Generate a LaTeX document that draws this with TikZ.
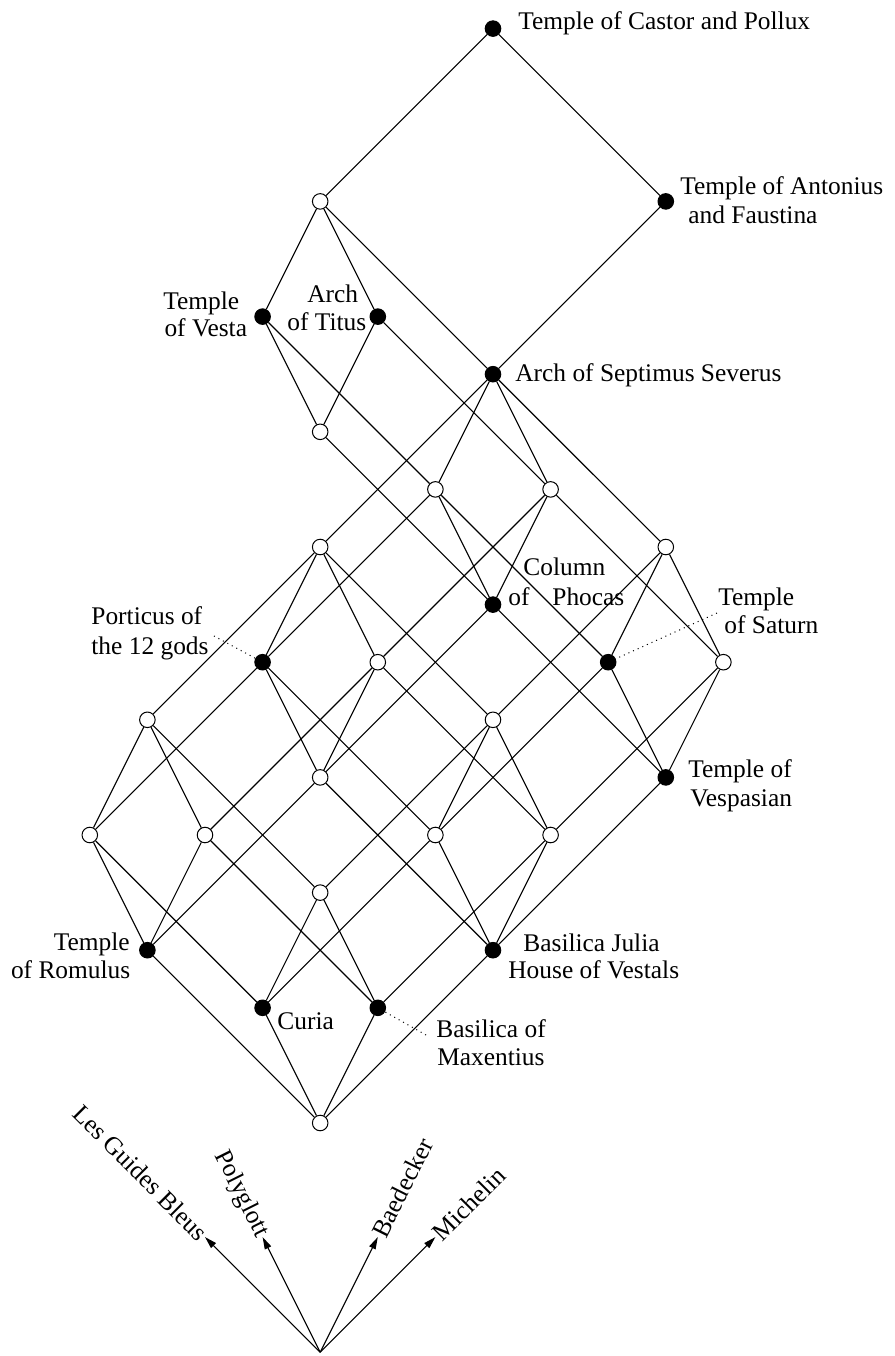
\documentclass[tikz,border=0pt]{standalone}
\usepackage{fontspec}
\setmainfont{Liberation Serif}
\usetikzlibrary{arrows.meta}
\begin{document}
\begin{tikzpicture}[x=1cm,y=1cm,
  every node/.style={font=\fontsize{12.55}{14}\selectfont},
  obj/.style={circle,draw=black,fill=black,minimum size=0.27cm,inner sep=0pt,line width=0.5pt},
  emp/.style={circle,draw=black,fill=white,minimum size=0.27cm,inner sep=0pt,line width=0.5pt},
  edge/.style={line width=0.55pt},
  lab/.style={anchor=base west,inner sep=0pt},
  labr/.style={anchor=base east,inner sep=0pt},
  lead/.style={dotted,line width=0.5pt},
  guide/.style={-{Triangle[length=6pt,width=3.4pt]},line width=0.55pt}
]
\useasboundingbox (-5.559,-4.045) rectangle (9.979,19.497);

% concept nodes
\node[obj] (A) at (3,19) {};
\node[emp] (B) at (0,16) {};
\node[obj] (C) at (6,16) {};
\node[obj] (D) at (-1,14) {};
\node[obj] (E) at (1,14) {};
\node[obj] (F) at (3,13) {};
\node[emp] (G) at (0,12) {};
\node[emp] (H) at (2,11) {};
\node[emp] (I) at (4,11) {};
\node[emp] (J) at (0,10) {};
\node[emp] (K) at (6,10) {};
\node[obj] (L) at (3,9) {};
\node[obj] (M) at (-1,8) {};
\node[emp] (N) at (1,8) {};
\node[obj] (O) at (5,8) {};
\node[emp] (P) at (7,8) {};
\node[emp] (Q) at (-3,7) {};
\node[emp] (R) at (3,7) {};
\node[emp] (S) at (0,6) {};
\node[obj] (T) at (6,6) {};
\node[emp] (U) at (-4,5) {};
\node[emp] (V) at (-2,5) {};
\node[emp] (W) at (2,5) {};
\node[emp] (X) at (4,5) {};
\node[emp] (Y) at (0,4) {};
\node[obj] (Z) at (-3,3) {};
\node[obj] (AA) at (3,3) {};
\node[obj] (AB) at (-1,2) {};
\node[obj] (AC) at (1,2) {};
\node[emp] (AD) at (0,0) {};

% edges
\foreach \a/\b in {AD/Z,AD/AB,AD/AC,AD/AA,
  Z/U,Z/V,Z/S, AB/U,AB/Y,AB/W, AC/V,AC/Y,AC/X, AA/S,AA/W,AA/X,AA/T,
  U/Q,U/M, V/Q,V/N, S/M,S/N,S/L, Y/Q,Y/R, W/M,W/R,W/O, X/N,X/R,X/P,
  T/L,T/O,T/P, Q/J, M/J,M/H, N/J,N/I, R/J,R/K, O/H,O/K, P/I,P/K,
  L/H,L/I,L/G, J/F, H/F,H/D, I/F,I/E, K/F, G/D,G/E,
  F/B,F/C, D/B,E/B, B/A,C/A}
  \draw[edge] (\a) -- (\b);

% labels
\node[lab] (lCastor) at (3.434,18.984) {Temple of Castor and Pollux};
\node[lab] (lAnt1) at (6.247,16.128) {Temple of Antonius};
\node[lab] (lAnt2) at (6.385,15.625) {and Faustina};
\node[lab] (lVes1) at (-2.729,14.132) {Temple};
\node[lab] (lVes2) at (-2.71,13.646) {of Vesta};
\node[lab] (lTit1) at (-0.231,14.253) {Arch};
\node[lab] (lTit2) at (-0.577,13.767) {of Titus};
\node[lab] (lSep) at (3.382,12.865) {Arch of Septimus Severus};
\node[lab] (lCol1) at (3.521,9.497) {Column};
\node[lab] (lCol2) at (3.26,8.993) {of\hspace{11.3pt}Phocas};
\node[lab] (lPor1) at (-3.979,8.646) {Porticus of};
\node[lab] (lPor2) at (-3.979,8.142) {the 12 gods};
\node[lab] (lSat1) at (6.906,8.993) {Temple};
\node[lab] (lSat2) at (7.01,8.507) {of Saturn};
\node[lab] (lVsp1) at (6.385,5.99) {Temple of};
\node[lab] (lVsp2) at (6.42,5.503) {Vespasian};
\node[lab] (lCur) at (-0.75,1.615) {Curia};
\node[labr] (lRom1) at (-3.30,3.003) {Temple};
\node[labr] (lRom2) at (-3.29,2.517) {of Romulus};
\node[lab] (lBJ1) at (3.521,2.986) {Basilica Julia};
\node[lab] (lBJ2) at (3.26,2.517) {House of Vestals};
\node[lab] (lMax1) at (2.01,1.493) {Basilica of};
\node[lab] (lMax2) at (2.026,1.007) {Maxentius};

% dotted leaders
\coordinate (cPor) at (-1.844,8.455);
\draw[lead] (cPor) -- (M);
\coordinate (cSat) at (6.889,8.854);
\draw[lead] (cSat) -- (O);
\coordinate (cMax) at (1.837,1.528);
\draw[lead] (cMax) -- (AC);

% guide vectors
\coordinate (g0) at (0,-3.98);
\coordinate (gLGB) at (-2,-1.98);
\coordinate (gPol) at (-1,-1.98);
\coordinate (gBae) at (1,-1.98);
\coordinate (gMic) at (2,-1.98);
\draw[guide] (g0) -- (gLGB);
\draw[guide] (g0) -- (gPol);
\draw[guide] (g0) -- (gBae);
\draw[guide] (g0) -- (gMic);
\node[anchor=east,rotate=-45,inner sep=0.5pt] (tLGB) at (gLGB) {Les Guides Bleus};
\node[anchor=east,rotate=-63.43,inner sep=0.5pt] (tPol) at (gPol) {Polyglott};
\node[anchor=west,rotate=63.43,inner sep=0.5pt] (tBae) at (gBae) {Baedecker};
\node[anchor=west,rotate=45,inner sep=0.5pt] (tMic) at (gMic) {Michelin};
\end{tikzpicture}
\end{document}
